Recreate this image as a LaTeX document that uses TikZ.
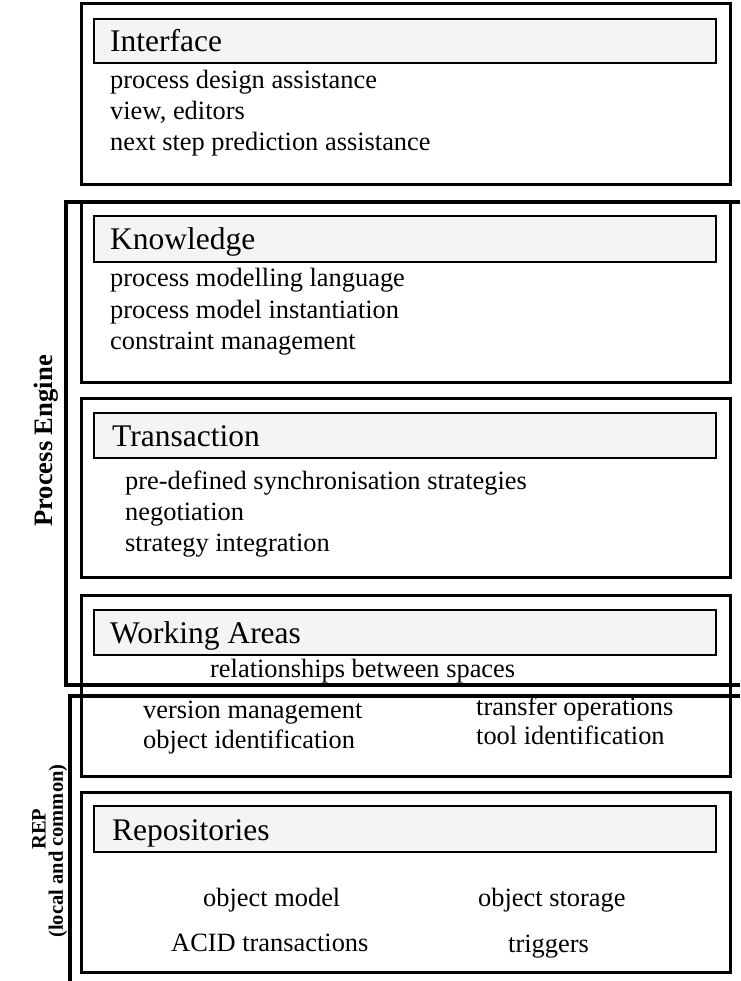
\documentclass[tikz,border=0pt]{standalone}
\usepackage{fontspec}
\setmainfont{Liberation Serif}
\definecolor{hdrgray}{HTML}{F4F4F4}
\begin{document}
\begin{tikzpicture}[x=1pt,y=-1pt,
  panel/.style={draw, line width=3pt},
  hdr/.style={draw, line width=2.5pt, fill=hdrgray},
  bracket/.style={draw, line width=3.5pt, line join=miter},
  title/.style={anchor=base west, inner sep=0pt, font=\fontsize{31.5}{36}\selectfont},
  item/.style={anchor=base west, inner sep=0pt, font=\fontsize{26.4}{31}\selectfont},
  side/.style={inner sep=0pt, rotate=90, font=\bfseries\fontsize{26.6}{31}\selectfont},
  sidesmall/.style={inner sep=0pt, rotate=90, font=\bfseries\fontsize{20.5}{24}\selectfont}]
\useasboundingbox (0,0) rectangle (740,981);

% Interface layer
\draw[panel] (81,4) rectangle (730,185);
\draw[hdr] (94,19) rectangle (716,63);
\node[title] (iface) at (110,52) {Interface};
\node[item] (i1) at (110,89)  {process design assistance};
\node[item] (i2) at (110,120) {view, editors};
\node[item] (i3) at (110,151) {next step prediction assistance};

% Knowledge layer
\draw[panel] (81,202) rectangle (730,382);
\draw[hdr] (94,216) rectangle (716,262);
\node[title] (know) at (110,250) {Knowledge};
\node[item] (k1) at (110,287) {process modelling language};
\node[item] (k2) at (110,318) {process model instantiation};
\node[item] (k3) at (110,349) {constraint management};

% Transaction layer
\draw[panel] (81,398) rectangle (730,577);
\draw[hdr] (94,413) rectangle (716,458);
\node[title] (trans) at (112,446) {Transaction};
\node[item] (t1) at (125,489) {pre-defined synchronisation strategies};
\node[item] (t2) at (125,520) {negotiation};
\node[item] (t3) at (125,551) {strategy integration};

% Working areas and the layer beneath them
\draw[panel] (81,595) rectangle (730,776);
\draw[hdr] (94,610) rectangle (716,655);
\node[title] (warea) at (110,643) {Working Areas};
\node[item] (w1) at (210,677) {relationships between spaces};
\node[item] (v1) at (143,718) {version management};
\node[item] (v2) at (143,748) {object identification};
\node[item] (v3) at (476,715) {transfer operations};
\node[item] (v4) at (476,744) {tool identification};

% Repositories layer
\draw[panel] (81,792) rectangle (730,972);
\draw[hdr] (94,806) rectangle (716,852);
\node[title] (repo) at (112,840) {Repositories};
\node[item] (r1) at (203,906) {object model};
\node[item] (r2) at (478,906) {object storage};
\node[item] (r3) at (171,951) {ACID transactions};
\node[item] (r4) at (508,952) {triggers};

% Grouping brackets
\draw[bracket] (740,202) -- (66,202) -- (66,685) -- (740,685);
\draw[bracket] (740,696) -- (70,696) -- (70,981);

% Side labels
\node[side] (pe) at (46,441) {Process Engine};
\node[sidesmall] (rep) at (39,829) {REP};
\node[sidesmall] (loc) at (58,851) {(local and common)};
\end{tikzpicture}
\end{document}
